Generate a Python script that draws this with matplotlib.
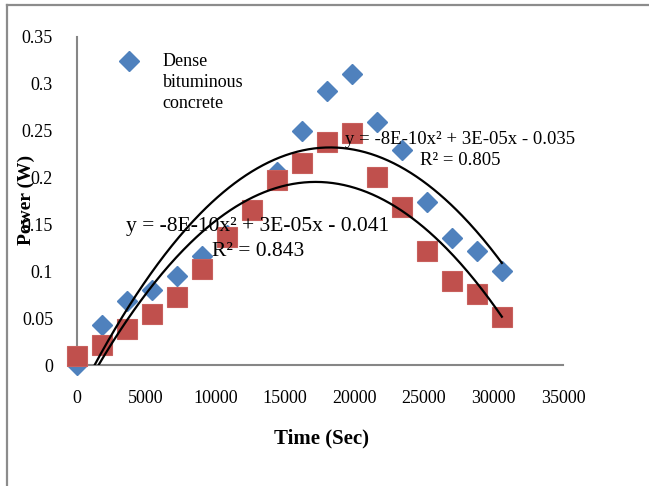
import numpy as np
import matplotlib
matplotlib.use("Agg")
import matplotlib.pyplot as plt
from matplotlib.lines import Line2D
from matplotlib.legend_handler import HandlerLine2D
from matplotlib.transforms import Affine2D

# readings every 1800 s
time_s = [0, 1800, 3600, 5400, 7200, 9000, 10800, 12600, 14400, 16200,
          18000, 19800, 21600, 23400, 25200, 27000, 28800, 30600]
power_dense = [0.0, 0.043, 0.068, 0.080, 0.095, 0.116, 0.139, 0.165, 0.206,
               0.250, 0.292, 0.311, 0.259, 0.229, 0.174, 0.136, 0.122, 0.100]
power_other = [0.010, 0.021, 0.038, 0.054, 0.073, 0.102, 0.137, 0.165, 0.197,
               0.216, 0.238, 0.248, 0.201, 0.169, 0.122, 0.090, 0.076, 0.051]
x_ticks = [0, 5000, 10000, 15000, 20000, 25000, 30000, 35000]
y_ticks = [0, 0.05, 0.1, 0.15, 0.2, 0.25, 0.3, 0.35]
eq_dense = ["y = -8E-10x² + 3E-05x - 0.035", "R² = 0.805"]
eq_other = ["y = -8E-10x² + 3E-05x - 0.041", "R² = 0.843"]

plt.rcParams['font.family'] = ['Liberation Serif', 'DejaVu Serif']

W, H = 649, 486
fig = plt.figure(figsize=(W / 100, H / 100), dpi=100)
ax = fig.add_axes([76.7 / W, 1 - 365 / H, (563 - 76.7) / W, (365 - 37) / H])

blue = '#4F81BD'
red = '#C0504D'

ax.plot(time_s, power_dense, linestyle='none', marker='D', ms=10.4,
        color=blue, mec=blue, zorder=3, clip_on=False,
        label='Dense\nbituminous\nconcrete')
ax.plot(time_s, power_other, linestyle='none', marker='s', ms=14.2,
        color=red, mec='#C8605D', mew=0.8, zorder=4, clip_on=False)

# 2nd order trendlines
xs = np.linspace(time_s[0], time_s[-1], 300)
for ys in (power_dense, power_other):
    c = np.polyfit(time_s, ys, 2)
    ax.plot(xs, np.polyval(c, xs), color='black', lw=1.6, zorder=5)

ax.set_xlim(0, 35000)
ax.set_ylim(0, 0.35)
ax.set_xticks(x_ticks)
ax.set_yticks(y_ticks)
ax.set_xticklabels([str(v) for v in x_ticks])
ax.set_yticklabels(['%g' % v for v in y_ticks])
ax.tick_params(length=0, labelsize=13)
ax.tick_params(axis='x', pad=18)
ax.tick_params(axis='y', pad=17)
for s in ('top', 'right'):
    ax.spines[s].set_visible(False)
for s in ('left', 'bottom'):
    ax.spines[s].set_color('#868686')
    ax.spines[s].set_linewidth(1.5)

fig.text(26 / W, 1 - 200 / H, 'Power (W)', rotation=90, ha='center',
         va='center', fontsize=14, fontweight='bold')
fig.text(321 / W, 1 - 438 / H, 'Time (Sec)', ha='center', va='center',
         fontsize=15, fontweight='bold')


class FirstLineHandler(HandlerLine2D):
    # put the key next to the first line of a wrapped label
    def create_artists(self, legend, orig_handle, xdescent, ydescent,
                       width, height, fontsize, trans):
        arts = super().create_artists(legend, orig_handle, xdescent, ydescent,
                                      width, height, fontsize, trans)
        for a in arts:
            a.set_transform(Affine2D().translate(0, 15.8) + trans)
        return arts


leg = ax.legend(loc='upper left', bbox_to_anchor=(111 / W, 1 - 44 / H),
                bbox_transform=fig.transFigure, frameon=False, fontsize=13,
                handlelength=1.0, handletextpad=1.35, borderpad=0,
                labelspacing=0, handler_map={Line2D: FirstLineHandler()})
for t in leg.get_texts():
    t.set_linespacing(1.32)

fig.text(460 / W, 1 - 139 / H, eq_dense[0], ha='center', va='center',
         fontsize=13.5, zorder=6)
fig.text(460 / W, 1 - 160 / H, eq_dense[1], ha='center', va='center',
         fontsize=13.5, zorder=6)
fig.text(258 / W, 1 - 227 / H, eq_other[0], ha='center', va='center',
         fontsize=15.5, zorder=6)
fig.text(258 / W, 1 - 252 / H, eq_other[1], ha='center', va='center',
         fontsize=15.5, zorder=6)

# frame of the chart area
fig.add_artist(Line2D([7 / W, 1], [1 - 5 / H, 1 - 5 / H], color='#8C8C8C',
                      lw=1.6, transform=fig.transFigure))
fig.add_artist(Line2D([7 / W, 7 / W], [0, 1 - 5 / H], color='#8C8C8C',
                      lw=1.6, transform=fig.transFigure))

fig.savefig('out.png', dpi=100)
